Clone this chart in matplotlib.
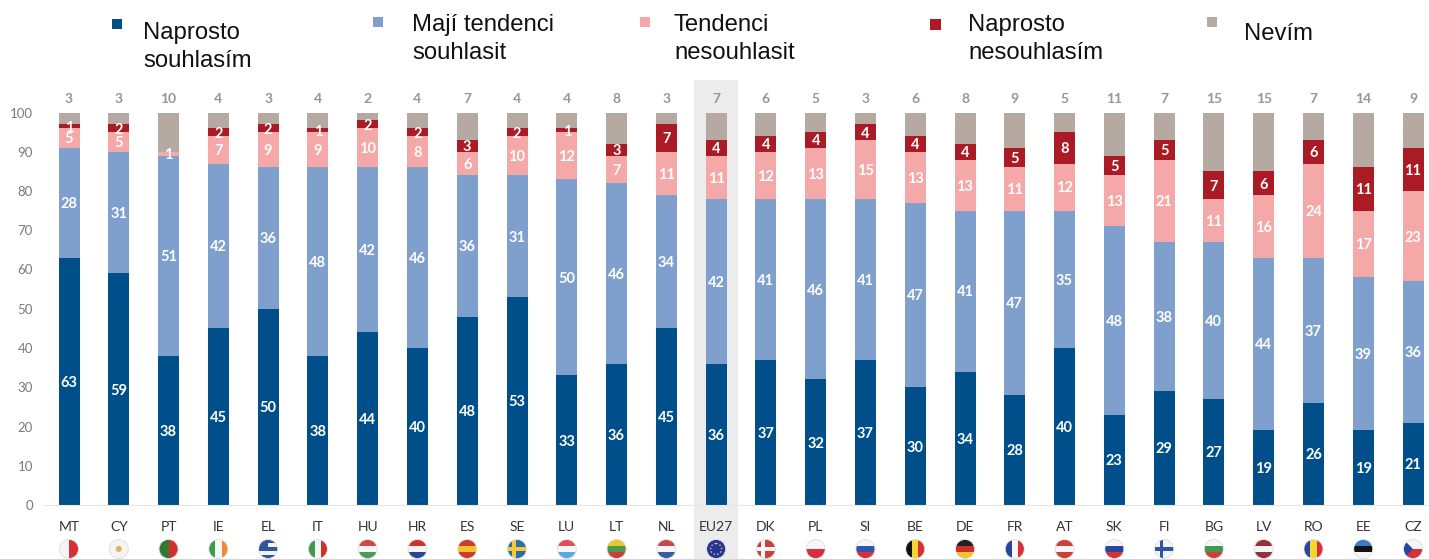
import matplotlib
matplotlib.use("Agg")
import matplotlib.pyplot as plt
from matplotlib.patches import Rectangle, Circle, Polygon

W, H = 1429, 559
countries = ["MT","CY","PT","IE","EL","IT","HU","HR","ES","SE","LU","LT","NL","EU27",
             "DK","PL","SI","BE","DE","FR","AT","SK","FI","BG","LV","RO","EE","CZ"]
totally_agree = [63,59,38,45,50,38,44,40,48,53,33,36,45,36,37,32,37,30,34,28,40,23,29,27,19,26,19,21]
tend_agree = [28,31,51,42,36,48,42,46,36,31,50,46,34,42,41,46,41,47,41,47,35,48,38,40,44,37,39,36]
tend_disagree = [5,5,1,7,9,9,10,8,6,10,12,7,11,11,12,13,15,13,13,11,12,13,21,11,16,24,17,23]
totally_disagree = [1,2,0,2,2,1,2,2,3,2,1,3,7,4,4,4,4,4,4,5,8,5,5,7,6,6,11,11]
dont_know = [3,3,10,4,3,4,2,4,7,4,4,8,3,7,6,5,3,6,8,9,5,11,7,15,15,7,14,9]
series = [totally_agree, tend_agree, tend_disagree, totally_disagree, dont_know]
colors = ["#004f8a", "#7f9fcd", "#f5a8a8", "#ab1b25", "#b5a9a2"]
legend_labels = ["Naprosto\nsouhlasím", "Mají tendenci\nsouhlasit", "Tendenci\nnesouhlasit",
                 "Naprosto\nnesouhlasím", "Nevím"]
yticks = list(range(0, 101, 10))

# simple flag descriptions: orientation and stripe colours
flags = {
 "MT":("v",["#f4f4f4","#d8303a"]), "CY":("h",["#f6f4ee"]), "PT":("v",["#2f7a35","#d3302c"]),
 "IE":("v",["#3f9a4f","#f6f6f6","#ef8a35"]), "EL":("h",["#2f55a4","#f4f4f4","#2f55a4","#f4f4f4","#2f55a4"]),
 "IT":("v",["#3f9a4f","#f6f6f6","#d3302c"]), "HU":("h",["#d3454a","#f6f6f6","#4f9a5a"]),
 "HR":("h",["#d3302c","#f4f4f4","#27479b"]), "ES":("h",["#cf3a2a","#f5c22e","#cf3a2a"]),
 "SE":("h",["#2f6da8"]), "LU":("h",["#e0505a","#f6f6f6","#5aa9e0"]), "LT":("h",["#e8c62e","#4a9a4a","#c8403a"]),
 "NL":("h",["#c9454f","#f6f6f6","#3a5aa6"]), "EU27":("h",["#26349a"]), "DK":("h",["#cf3f3a"]),
 "PL":("h",["#f6f6f6","#d8303a"]), "SI":("h",["#f6f6f6","#2f55b0","#d8303a"]), "BE":("v",["#111111","#f5d52e","#d8303a"]),
 "DE":("h",["#222222","#cf2f2a","#f2c42e"]), "FR":("v",["#27479b","#f6f6f6","#d8303a"]),
 "AT":("h",["#cf3f3a","#f6f6f6","#cf3f3a"]), "SK":("h",["#f6f6f6","#27479b","#d8303a"]), "FI":("h",["#f4f4f4"]),
 "BG":("h",["#f6f6f6","#3f9a4f","#cf3f3a"]), "LV":("h",["#98303a","#f6f6f6","#98303a"]),
 "RO":("v",["#27479b","#f5d52e","#d8303a"]), "EE":("h",["#3a7ac8","#111111","#f6f6f6"]), "CZ":("h",["#f6f6f6","#d8303a"]),
}
crosses = {"SE":"#f2cb38", "DK":"#f6f6f6", "FI":"#2f55a4"}

fig = plt.figure(figsize=(W/100, H/100), dpi=100)
over = fig.add_axes([0, 0, 1, 1], zorder=0)
over.set_xlim(0, W); over.set_ylim(H, 0); over.axis("off")

left, right, y0, y100 = 44, 1429, 505, 112.5
ax = fig.add_axes([left/W, 1-y0/H, (right-left)/W, (y0-y100)/H], zorder=1)
ax.patch.set_alpha(0)
step = (1413-69)/27
ax.set_xlim(-(69-left)/step, (right-69)/step)
ax.set_ylim(0, 100)
xs = list(range(len(countries)))
bw = 21/step
bottom = [0]*len(xs)
for vals, c in zip(series, colors):
    ax.bar(xs, vals, bw, bottom=bottom, color=c, linewidth=0)
    if c != colors[-1]:
        for x, v, b in zip(xs, vals, bottom):
            if v:
                ax.annotate(str(v), (x, b+v/2), xytext=(0, -1), textcoords="offset points",
                            ha="center", va="center", color="white",
                            fontsize=10.5, fontweight="bold", family="Lato")
    bottom = [b+v for b, v in zip(bottom, vals)]

for s in ["top", "right", "left"]:
    ax.spines[s].set_visible(False)
ax.spines["bottom"].set_color("#e6e6e6")
ax.set_yticks(yticks)
ax.set_xticks([])
ax.tick_params(axis="y", length=0, pad=8, labelsize=9.5, labelcolor="#7a7a7a")
for t in ax.get_yticklabels():
    t.set_family("Lato")

def px(i):
    return ax.transData.transform((i, 0))[0]

fig.canvas.draw()
for i, (code, dk) in enumerate(zip(countries, dont_know)):
    x = px(i)
    over.text(x, 99, str(dk), ha="center", va="center", fontsize=10, color="#9b958c",
              family="Lato", fontweight="bold")
    over.text(x, 527, code, ha="center", va="center", fontsize=10, color="#333333", family="Lato")
    r, cy = 9.5, 549
    clip = Circle((x, cy), r, transform=over.transData)
    orient, cols = flags[code]
    n = len(cols)
    for k, col in enumerate(cols):
        if orient == "h":
            p = Rectangle((x-r, cy-r+2*r*k/n), 2*r, 2*r/n, color=col, lw=0)
        else:
            p = Rectangle((x-r+2*r*k/n, cy-r), 2*r/n, 2*r, color=col, lw=0)
        over.add_patch(p); p.set_clip_path(clip)
    if code in crosses:
        for p in (Rectangle((x-4.5, cy-r), 3.5, 2*r, color=crosses[code], lw=0),
                  Rectangle((x-r, cy-1.7), 2*r, 3.5, color=crosses[code], lw=0)):
            over.add_patch(p); p.set_clip_path(clip)
    if code == "CZ":
        p = Polygon([(x-r, cy-r), (x, cy), (x-r, cy+r)], color="#27479b", lw=0)
        over.add_patch(p); p.set_clip_path(clip)
    if code == "EL":
        p = Rectangle((x-r, cy-r), r, r, color="#2f55a4", lw=0)
        over.add_patch(p); p.set_clip_path(clip)
    if code == "CY":
        over.add_patch(Circle((x, cy), 3, color="#e0b070", lw=0))
    if code == "EU27":
        over.add_patch(Circle((x, cy), 5.5, fill=False, ec="#e8d23a", lw=1, ls=":"))
    over.add_patch(Circle((x, cy), r, fill=False, ec="#dddddd", lw=0.6))

# EU27 highlight band
eu = countries.index("EU27")
over.add_patch(Rectangle((px(eu)-22, 80), 44, H-80, color="#ececec", lw=0, zorder=0))

# legend
marks = [(117, 24), (378, 22), (645, 22), (936, 24), (1212, 22)]
sizes = [10, 10, 10, 11, 10]
texts = [(143, 47), (412, 39), (674, 39), (968, 39), (1244, 33.5)]
for (mx, my), s, (tx, ty), lab, c in zip(marks, sizes, texts, legend_labels, colors):
    over.add_patch(Rectangle((mx-s/2, my-s/2), s, s, color=c, lw=0))
    over.text(tx, ty, lab, ha="left", va="center", fontsize=17.2, family="Liberation Sans",
              color="#111111", linespacing=1.3)

fig.savefig("out.png", dpi=100)
